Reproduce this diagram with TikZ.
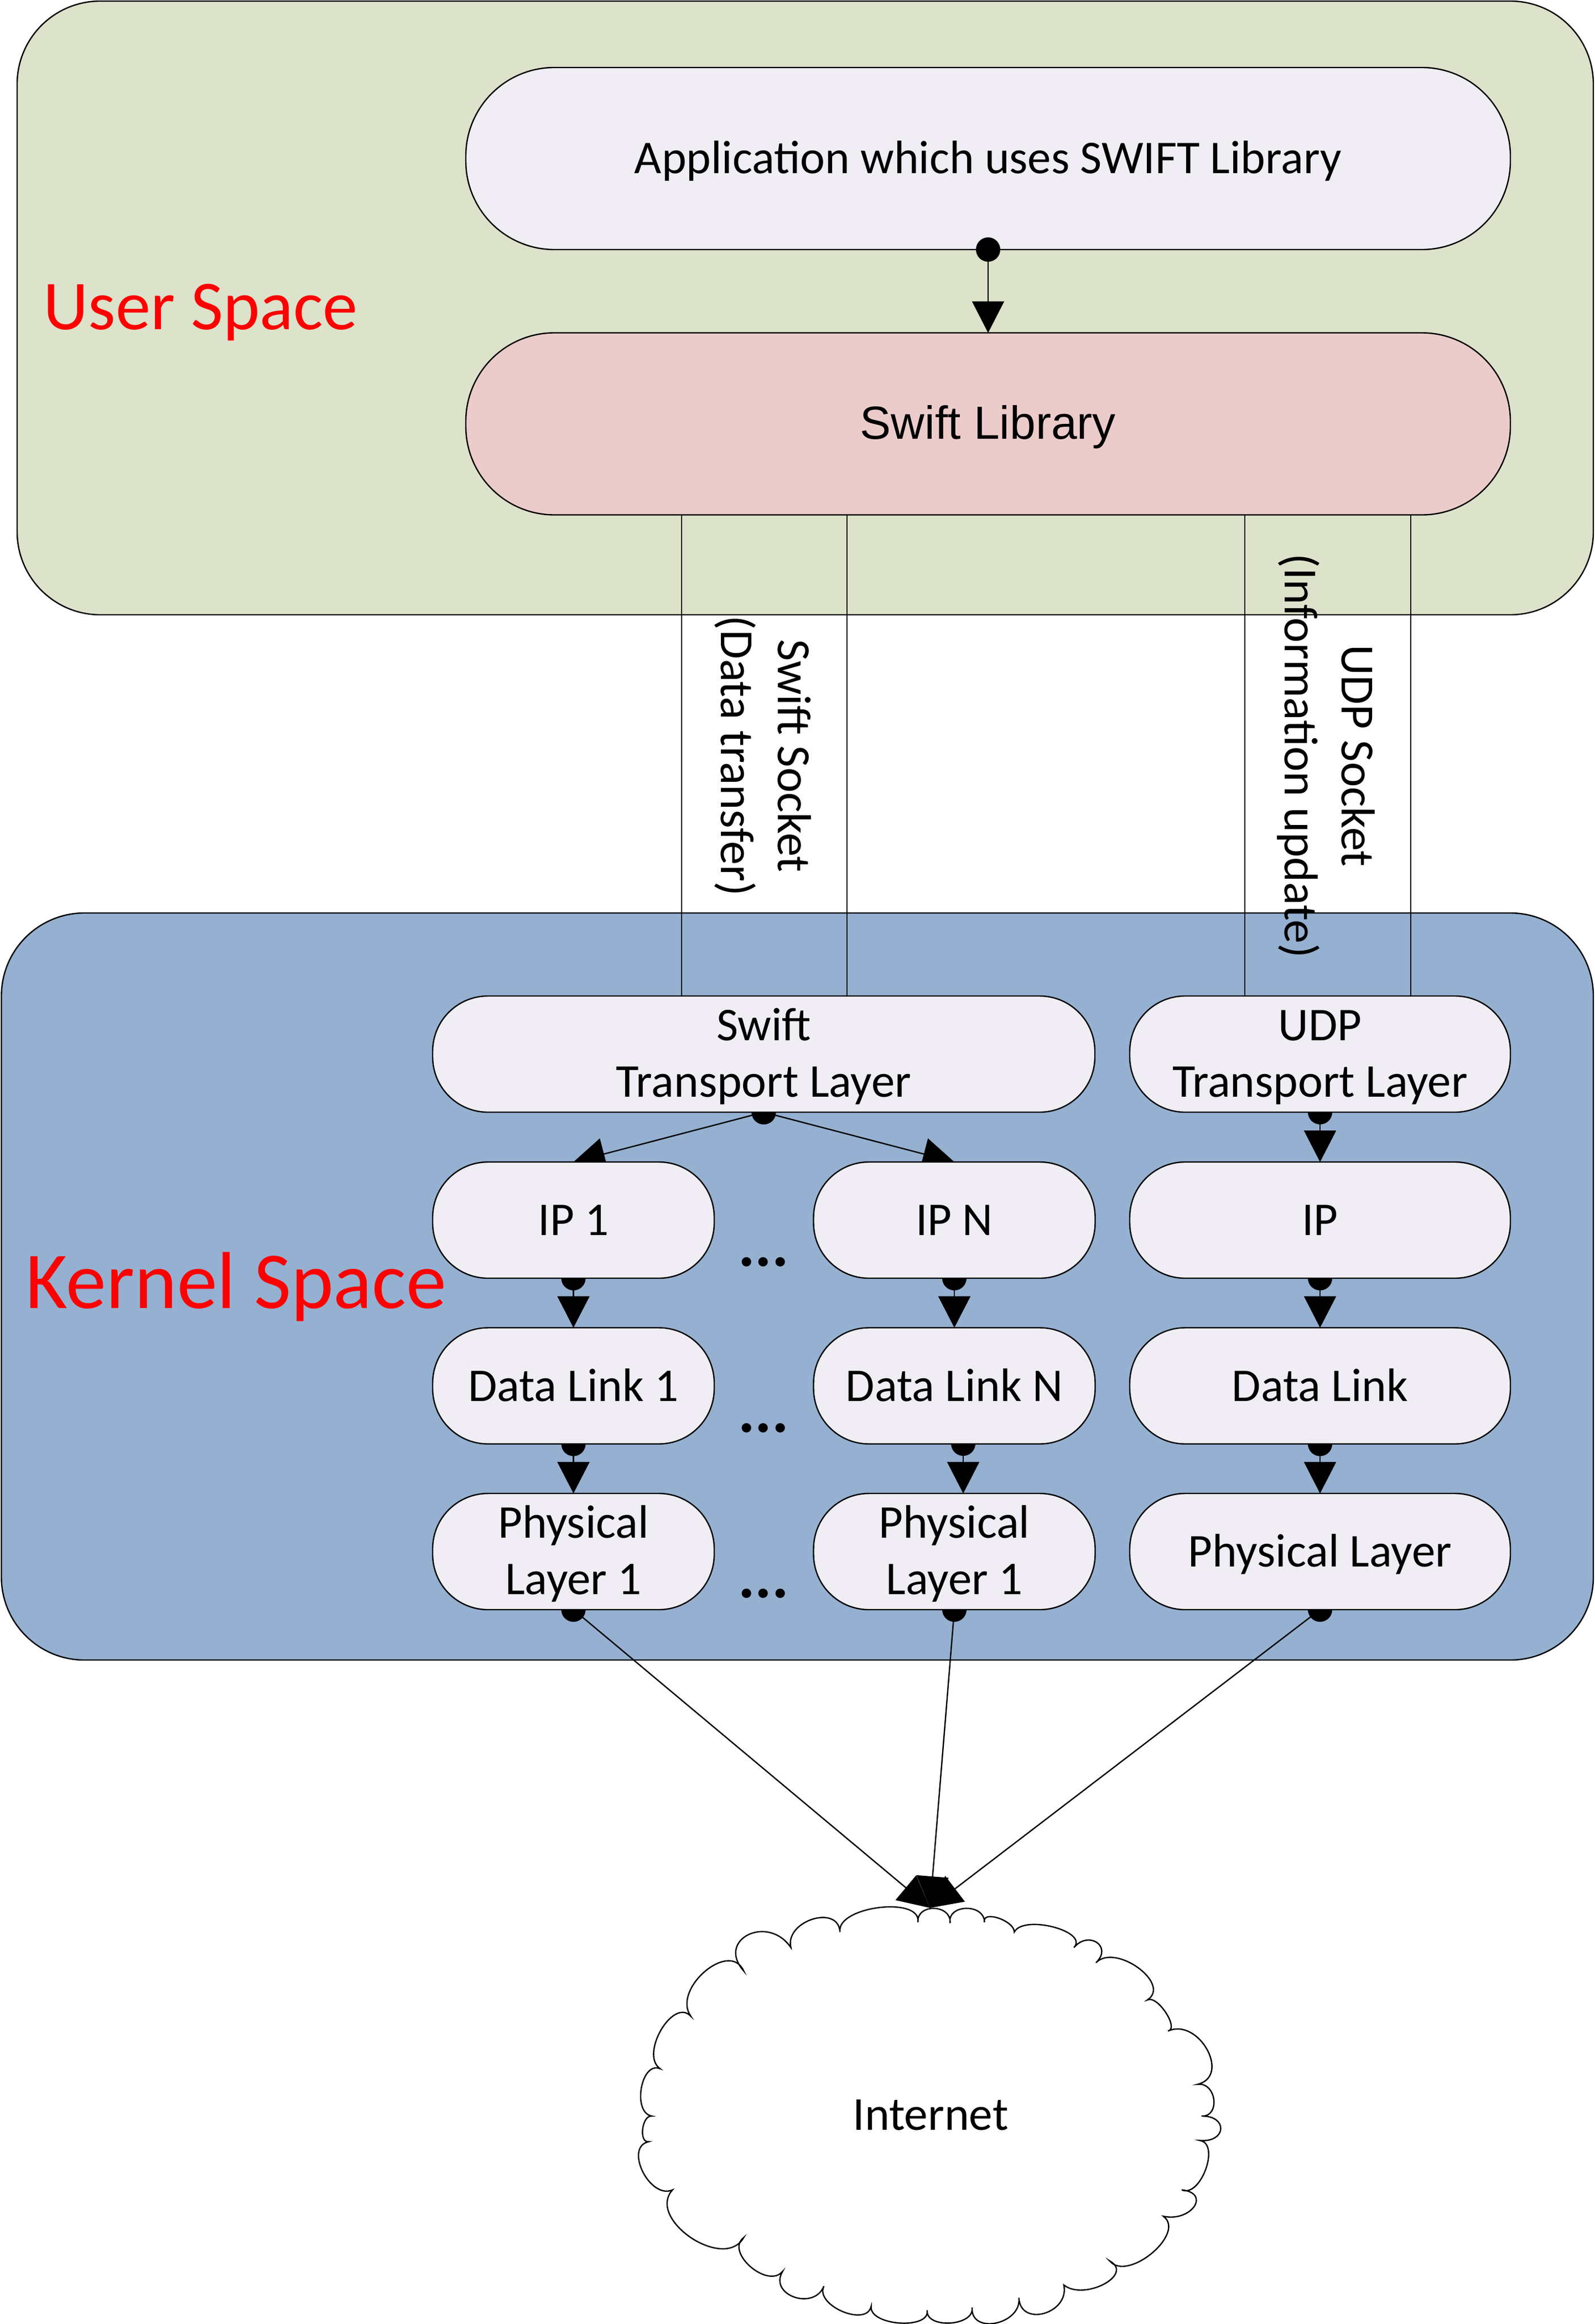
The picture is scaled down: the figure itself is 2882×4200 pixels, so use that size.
\documentclass[tikz,border=0pt]{standalone}
\usepackage{fontspec}
\setmainfont{Carlito}
\newfontfamily\arialfont{Liberation Sans}
\usetikzlibrary{arrows.meta,calc}
\pgfdeclarelayer{containers}
\pgfdeclarelayer{connectors}
\pgfsetlayers{containers,connectors,main}
\definecolor{usergreen}{RGB}{221,226,203}
\definecolor{kernelblue}{RGB}{149,176,208}
\definecolor{pillgrey}{RGB}{240,238,244}
\definecolor{libpink}{RGB}{236,204,203}
\tikzset{
  x=0.5pt,y=-0.5pt,
  container/.style={draw=black,line width=1.2pt,rounded corners=75pt,inner sep=0pt,outer sep=0pt},
  pill/.style={draw=black,line width=1.2pt,fill=pillgrey,inner sep=0pt,outer sep=0pt,align=center,
    font=\fontsize{42.5}{51}\selectfont,text height=34.5pt,text depth=7pt},
  twolines/.style={text height=84.5pt,text depth=7pt},
  bigpill/.style={pill,minimum width=944pt,minimum height=164.5pt,rounded corners=80pt},
  smallpill/.style={pill,minimum height=105pt,rounded corners=50pt},
  narrow/.style={smallpill,minimum width=254.5pt},
  wide/.style={smallpill,minimum width=344pt},
  spacelabel/.style={text=red,inner sep=0pt,anchor=base west},
  sockettext/.style={rotate=-90,align=center,inner sep=0pt,font=\fontsize{43}{51.5}\selectfont},
  dots/.style={inner sep=0pt,anchor=base,font=\bfseries\fontsize{57}{57}\selectfont},
  conn/.style={line width=1.2pt,-{Triangle[length=28.5pt,width=29pt,fill=black]}},
  plainline/.style={line width=1.2pt},
  dot/.style={fill=black},
}
\begin{document}
\begin{tikzpicture}
\useasboundingbox (0,0) rectangle (2882,4200);
\begin{pgfonlayer}{containers}
  \fill[white] (0,0) rectangle (2882,4200);
  \node[container,fill=usergreen,minimum width=1424.5pt,minimum height=554.5pt] (user) at (1455.5,556.5) {};
  \node[container,fill=kernelblue,minimum width=1438.75pt,minimum height=675pt] (kernel) at (1441.25,2325) {};
\end{pgfonlayer}

\node[spacelabel,font=\fontsize{63.3}{63.3}\selectfont] (userlabel) at (78,595) {User Space};
\node[spacelabel,font=\fontsize{73}{73}\selectfont] (kernellabel) at (46,2364) {Kernel Space};

\node[bigpill] (app) at (1786,286.5) {Application which uses SWIFT Library};
\node[bigpill,fill=libpink,font=\arialfont\fontsize{42}{50}\selectfont] (lib) at (1786,766) {Swift Library};

\node[wide,twolines,minimum width=598.5pt] (stl) at (1380.5,1905) {Swift\\Transport Layer};
\node[wide,twolines] (utl) at (2386,1905) {UDP\\Transport Layer};
\node[narrow] (ip1) at (1036.5,2205) {IP 1};
\node[narrow] (ipn) at (1725,2205) {IP N};
\node[wide] (ip) at (2386,2205) {IP};
\node[narrow] (dl1) at (1036.5,2504.5) {Data Link 1};
\node[narrow] (dln) at (1725,2504.5) {Data Link N};
\node[wide] (dl) at (2386,2504.5) {Data Link};
\node[narrow,twolines] (ph1) at (1036.5,2804) {Physical\\Layer 1};
\node[narrow,twolines] (phn) at (1725,2804) {Physical\\Layer 1};
\node[wide] (ph) at (2386,2804) {Physical Layer};

\node[dots] (dots1) at (1380,2288) {...};
\node[dots] (dots2) at (1380,2588) {...};
\node[dots] (dots3) at (1380,2887) {...};

\node[sockettext] (swiftsock) at (1379,1366) {Swift Socket\\(Data transfer)};
\node[sockettext] (udpsock) at (2397,1366) {UDP Socket\\(Information update)};

\node[inner sep=0pt,anchor=base,font=\fontsize{42.7}{51.5}\selectfont] (internet) at (1682,3849) {Internet};
\coordinate (cloudtop) at (1681,3448);

% cloud outline traced cusp to cusp
\begin{scope}[shift={(1000,3100)},x=0.41459pt,y=-0.35088pt]
\draw[line width=1.2pt] (795,533)
 \foreach \ax/\ay/\mx/\my/\bx/\by in {
  795/533/830/497/865/535, 865/535/900/497/940/533, 940/533/970/522/1005/558,
  1005/558/1090/545/1135/598, 1135/598/1185/585/1183/637, 1183/637/1275/650/1295/733,
  1295/733/1335/765/1340/813, 1340/813/1425/860/1405/950, 1405/950/1440/990/1413/1032,
  1413/1032/1455/1065/1410/1095, 1410/1095/1422/1170/1370/1222, 1370/1222/1397/1265/1330/1290,
  1330/1290/1305/1385/1213/1405, 1213/1405/1200/1465/1113/1467, 1113/1467/1070/1540/1015/1500,
  1015/1500/965/1565/913/1525, 913/1525/865/1565/815/1532, 815/1532/755/1565/693/1522,
  693/1522/630/1535/590/1470, 590/1470/525/1498/500/1432, 500/1432/430/1420/415/1345,
  415/1345/300/1345/260/1222, 260/1222/195/1175/208/1098, 208/1098/195/1065/215/1032,
  215/1032/192/960/233/910, 233/910/235/810/300/775, 300/775/330/660/415/658,
  415/658/425/565/518/598, 518/598/565/525/625/558, 625/558/710/495/795/533}
 { .. controls ({(8*\mx-\ax-\bx)/6+(\ax-\bx)*0.55},{(8*\my-\ay-\by)/6+(\ay-\by)*0.55})
     and ({(8*\mx-\ax-\bx)/6-(\ax-\bx)*0.55},{(8*\my-\ay-\by)/6-(\ay-\by)*0.55}) .. (\bx,\by) };
\end{scope}

% the application's dot lies over its box
\fill[dot] (app.south) circle[radius=11pt];

\begin{pgfonlayer}{connectors}
  % socket lines
  \coordinate (s1a) at (1232,931); \coordinate (s1b) at (1232,1800);
  \coordinate (s2a) at (1531,931); \coordinate (s2b) at (1531,1800);
  \coordinate (u1a) at (2250,931); \coordinate (u1b) at (2250,1800);
  \coordinate (u2a) at (2550,931); \coordinate (u2b) at (2550,1800);
  \draw[plainline] (s1a) -- (s1b);
  \draw[plainline] (s2a) -- (s2b);
  \draw[plainline] (u1a) -- (u1b);
  \draw[plainline] (u2a) -- (u2b);
  % straight arrows with start dots
  \draw[conn] (app.south) -- (lib.north);
  \foreach \a/\b in {stl/ip1,stl/ipn,utl/ip,ip1/dl1,ipn/dln,ip/dl,dl1/ph1,dl/ph}{
    \fill[dot] (\a.south) circle[radius=11pt];
    \draw[conn] (\a.south) -- (\b.north);
  }
  \coordinate (dlnout) at (1741,2609); \coordinate (phnin) at (1741,2699);
  \fill[dot] (dlnout) circle[radius=11pt];
  \draw[conn] (dlnout) -- (phnin);
  \foreach \a in {ph1,phn,ph}{
    \fill[dot] (\a.south) circle[radius=11pt];
    \draw[conn] (\a.south) -- (cloudtop);
  }
\end{pgfonlayer}
\end{tikzpicture}
\end{document}
